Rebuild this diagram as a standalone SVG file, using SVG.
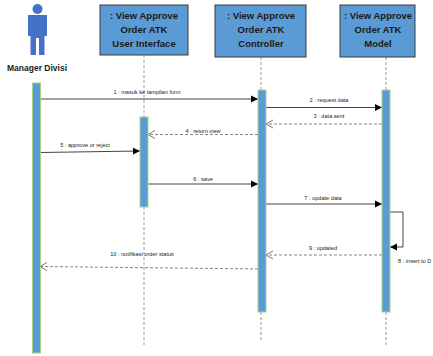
<svg xmlns="http://www.w3.org/2000/svg" width="433" height="356" viewBox="0 0 433 356">
<defs>
<marker id="fill" markerWidth="8" markerHeight="8" refX="7" refY="4" orient="auto" markerUnits="userSpaceOnUse"><path d="M0,0.5 L7,4 L0,7.5 Z" fill="#000"/></marker>
<marker id="open" markerWidth="10" markerHeight="10" refX="7.5" refY="5" orient="auto" markerUnits="userSpaceOnUse"><path d="M0.5,1 L7.5,5 L0.5,9" fill="none" stroke="#555" stroke-width="0.8"/></marker>
</defs>
<style>
.box{fill:#5B9BD5;stroke:#3a3a3a;stroke-width:1}
.bt{font-family:"Liberation Sans",Arial,sans-serif;font-weight:bold;font-size:9.5px;fill:#1a1a1a;text-anchor:middle}
.act{fill:#5B9BD5;stroke:#A9D18E;stroke-width:1}
.life{stroke:#999;stroke-width:1;stroke-dasharray:3,2;fill:none}
.msg{stroke:#444;stroke-width:1;fill:none;marker-end:url(#fill)}
.ret{stroke:#666;stroke-width:0.8;stroke-dasharray:3,2;fill:none;marker-end:url(#open)}
.lbl{font-family:"Liberation Sans",Arial,sans-serif;font-size:5.6px;fill:#222;text-anchor:middle}
</style>
<rect width="433" height="356" fill="#fff"/>
<g id="connectors">
<line class="life" x1="144" y1="55" x2="144" y2="117"/>
<line class="life" x1="144" y1="207" x2="144" y2="346"/>
<line class="life" x1="261" y1="57" x2="261" y2="90"/>
<line class="life" x1="261" y1="312" x2="261" y2="342"/>
<line class="life" x1="386" y1="57" x2="386" y2="90"/>
<line class="life" x1="386" y1="312" x2="386" y2="346"/>
<line class="msg" x1="40" y1="99" x2="258" y2="99"/>
<text class="lbl" x="147" y="94">1 : masuk ke tampilan form</text>
<line class="msg" x1="266" y1="107.5" x2="382" y2="107.5"/>
<text class="lbl" x="329" y="102">2 : request data</text>
<line class="ret" x1="382" y1="124" x2="266" y2="124"/>
<text class="lbl" x="329" y="118">3 : data sent</text>
<line class="ret" x1="258" y1="134.5" x2="148" y2="134.5"/>
<text class="lbl" x="203" y="133">4 : return view</text>
<line class="msg" x1="40" y1="152.5" x2="140" y2="151"/>
<text class="lbl" x="85" y="147">5 : approve or reject</text>
<line class="msg" x1="148" y1="184" x2="258" y2="184"/>
<text class="lbl" x="203" y="181">6 : save</text>
<line class="msg" x1="266" y1="204" x2="382" y2="204"/>
<text class="lbl" x="323" y="200">7 : update data</text>
<polyline class="msg" points="390,212 403,212 403,247 390,247"/>
<text class="lbl" x="398" y="263" style="text-anchor:start">8 : insert to D</text>
<line class="ret" x1="382" y1="255" x2="266" y2="255"/>
<text class="lbl" x="323" y="249.5">9 : updated</text>
<line class="ret" x1="258" y1="269" x2="40" y2="266.5"/>
<text class="lbl" x="142" y="256">10 : notifikasi order status</text>
</g>
<g id="manager">
<circle cx="37.5" cy="9" r="5" fill="#4472C4"/>
<path d="M28,15 H47 V36 H44.5 V55 H39 V38 H36 V55 H30.5 V36 H28 Z" fill="#4472C4"/>
<text class="bt" x="37" y="71" style="font-size:8.5px">Manager Divisi</text>
<rect class="act" x="32.5" y="83" width="8" height="270"/>
</g>
<g id="ui">
<rect class="box" x="100" y="5" width="88" height="50"/>
<text class="bt" x="144" y="19">: View Approve</text>
<text class="bt" x="144" y="33">Order ATK</text>
<text class="bt" x="144" y="47">User Interface</text>
<rect class="act" x="140" y="117" width="8" height="90"/>
</g>
<g id="controller">
<rect class="box" x="215" y="5" width="91" height="52"/>
<text class="bt" x="261" y="19">: View Approve</text>
<text class="bt" x="261" y="33">Order ATK</text>
<text class="bt" x="261" y="47">Controller</text>
<rect class="act" x="258" y="90" width="8" height="222"/>
</g>
<g id="model">
<rect class="box" x="340" y="5" width="75" height="52"/>
<text class="bt" x="378" y="19">: View Approve</text>
<text class="bt" x="378" y="33">Order ATK</text>
<text class="bt" x="378" y="47">Model</text>
<rect class="act" x="382" y="90" width="8" height="222"/>
</g>
</svg>
